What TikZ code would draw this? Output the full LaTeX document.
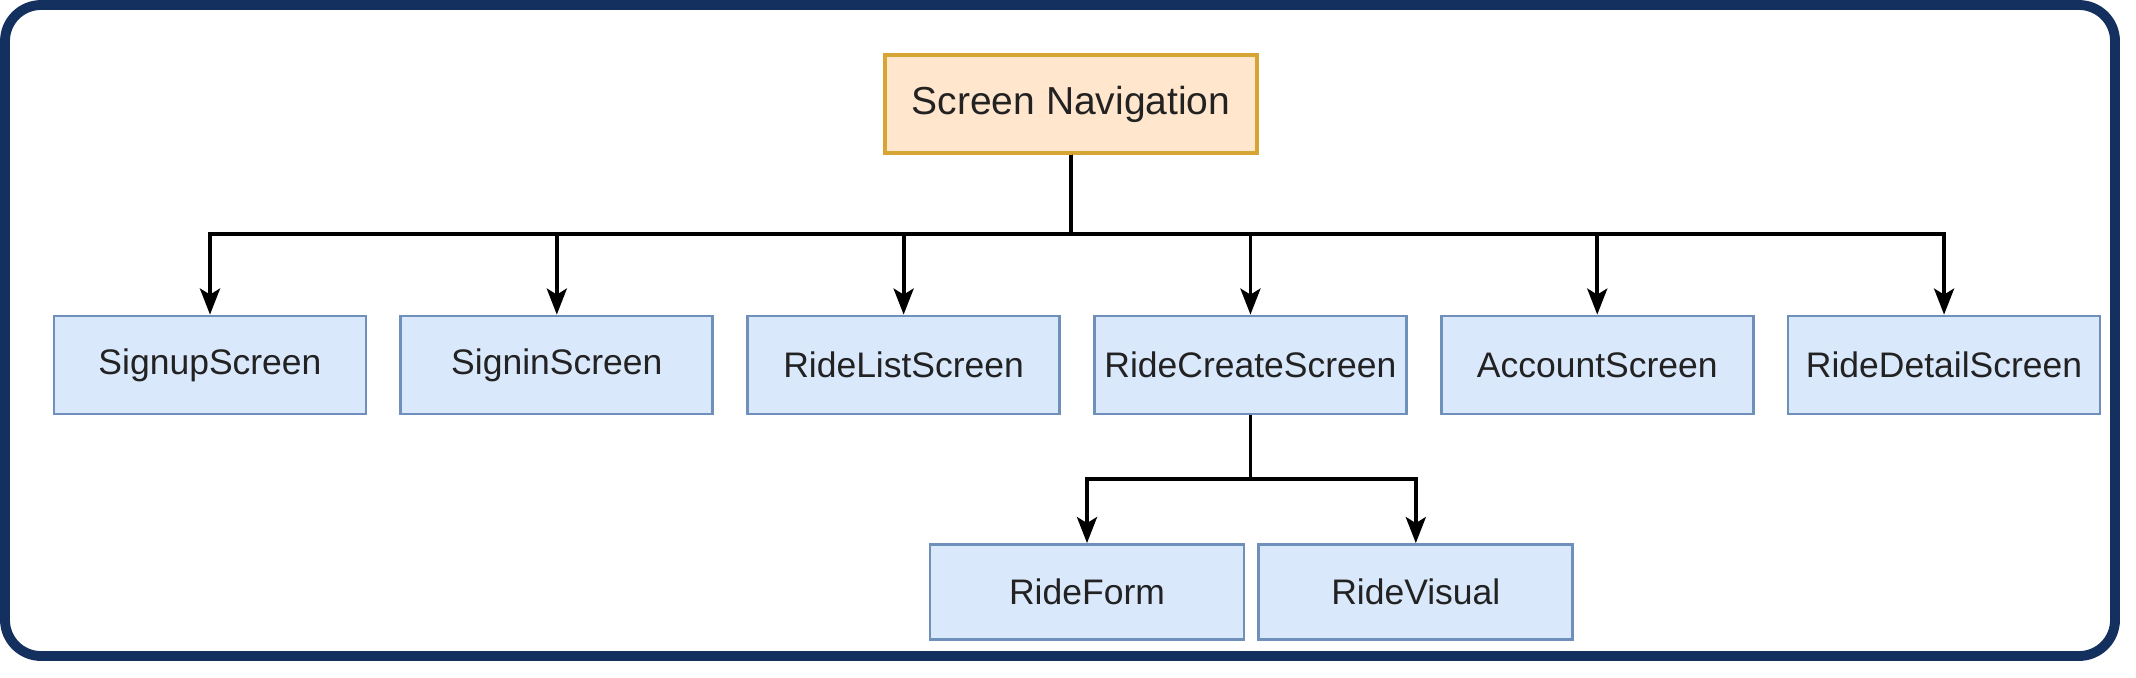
\documentclass[tikz,border=0pt]{standalone}
\usepackage{fontspec}
\setmainfont{Liberation Sans}
\definecolor{NavFrame}{HTML}{13305F}
\definecolor{NavFill}{HTML}{FFE6CC}
\definecolor{NavLine}{HTML}{D6A534}
\definecolor{ScreenFill}{HTML}{DAE8FC}
\definecolor{ScreenLine}{HTML}{7090BC}
\definecolor{NavText}{HTML}{222222}
\usetikzlibrary{arrows.meta,positioning}
\tikzset{
  root/.style={draw=NavLine, fill=NavFill, line width=0.9pt, align=center, minimum width=3.72cm, minimum height=0.98cm, inner sep=0pt, font=\fontsize{11.1}{13}\selectfont\color{NavText}},
  screen/.style={draw=ScreenLine, fill=ScreenFill, line width=0.8pt, align=center, minimum width=3.12cm, minimum height=0.98cm, inner sep=0pt, font=\fontsize{10.1}{12}\selectfont\color{NavText}},
  arrow/.style={-{Stealth[length=2.6mm,width=2.0mm,inset=0.6mm]}, line width=1.1pt, black}
}

\begin{document}
\begin{tikzpicture}[node distance=0.32cm]
    \useasboundingbox (0,0) rectangle (21.36,6.77);
    \draw[NavFrame, line width=2.8pt, rounded corners=0.36cm] (0.05,0.21) rectangle (21.15,6.72);

    \node[root] (nav) at (10.71,5.73) {Screen Navigation};

    \node[screen] (signup) at (2.10,3.12) {SignupScreen};
    \node[screen, right=of signup] (signin) {SigninScreen};
    \node[screen, right=of signin] (ridelist) {RideListScreen};
    \node[screen, right=of ridelist] (ridecreate) {RideCreateScreen};
    \node[screen, right=of ridecreate] (account) {AccountScreen};
    \node[screen, right=of account] (ridedetail) {RideDetailScreen};

    \node[screen, minimum width=3.14cm, minimum height=0.95cm] (rideform) at (10.87,0.85) {RideForm};
    \node[screen, minimum width=3.14cm, minimum height=0.95cm, right=0.12cm of rideform] (ridevisual) {RideVisual};

    \coordinate (bus) at (nav.south |- 0,4.43);
    \coordinate (subbus) at (ridecreate.south |- 0,1.98);

    \draw[arrow] (nav.south) -- (bus) -| (signup.north);
    \draw[arrow] (nav.south) -- (bus) -| (signin.north);
    \draw[arrow] (nav.south) -- (bus) -| (ridelist.north);
    \draw[arrow] (nav.south) -- (bus) -| (ridecreate.north);
    \draw[arrow] (nav.south) -- (bus) -| (account.north);
    \draw[arrow] (nav.south) -- (bus) -| (ridedetail.north);
    \draw[arrow] (ridecreate.south) -- (subbus) -| (rideform.north);
    \draw[arrow] (ridecreate.south) -- (subbus) -| (ridevisual.north);
\end{tikzpicture}
\end{document}
